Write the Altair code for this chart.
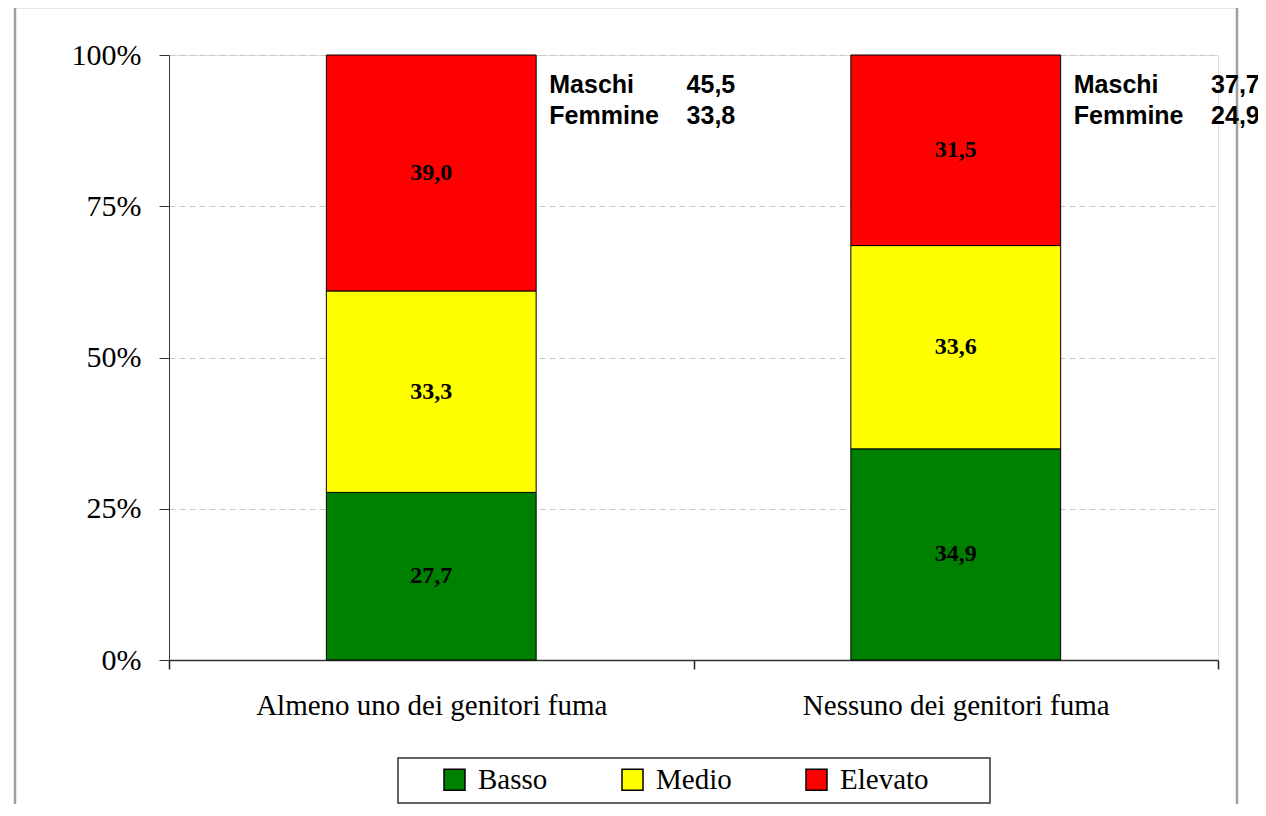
import altair as alt
import pandas as pd

categories = ["Almeno uno dei genitori fuma", "Nessuno dei genitori fuma"]
levels = ["Basso", "Medio", "Elevato"]
basso = [27.7, 34.9]
medio = [33.3, 33.6]
elevato = [39.0, 31.5]
maschi = [45.5, 37.7]
femmine = [33.8, 24.9]
colors = ["#008000", "#FFFF00", "#FF0000"]

def fmt(v):
    return f"{v:.1f}".replace(".", ",")

rows = []
for i, cat in enumerate(categories):
    lo = 0.0
    for j, (lev, vals) in enumerate(zip(levels, [basso, medio, elevato])):
        v = vals[i]
        hi = lo + v
        rows.append({"cat": cat, "level": lev, "ord": j, "value": v,
                     "lo": lo / 100, "hi": hi / 100, "mid": (lo + hi) / 200,
                     "label": fmt(v)})
        lo = hi
df = pd.DataFrame(rows)

ann = pd.DataFrame({
    "cat": categories,
    "top": [1.0, 1.0],
    "m": [fmt(v) for v in maschi],
    "f": [fmt(v) for v in femmine],
})

one = pd.DataFrame({"k": [0]})

xenc = alt.X("cat:N", sort=categories, title=None,
             scale=alt.Scale(paddingInner=0, paddingOuter=0),
             axis=alt.Axis(tickBand="extent", labelAngle=0, labelFont="Liberation Serif",
                           labelFontSize=29, labelColor="black", labelPadding=22, labelLimit=0,
                           tickSize=9, tickColor="#222", tickWidth=1.5,
                           domainColor="#333", domainWidth=1.5, grid=False))
yscale = alt.Scale(domain=[0, 1])

frame = alt.Chart(one).mark_rect(fillOpacity=0, stroke="#a0a0a0", strokeWidth=2.5).encode(
    x=alt.value(-154), x2=alt.value(1068), y=alt.value(-48), y2=alt.value(790))

bars = alt.Chart(df).mark_bar(stroke="black", strokeWidth=1, width={"band": 0.4}).encode(
    x=xenc,
    y=alt.Y("lo:Q", scale=yscale, title=None,
            axis=alt.Axis(values=[0, 0.25, 0.5, 0.75, 1], format=".0%",
                          labelFont="Liberation Serif", labelFontSize=30, labelColor="black",
                          labelPadding=18, tickSize=10, tickColor="#333", domainColor="#333",
                          grid=True, gridColor="#c8c8c8", gridDash=[6, 4], gridWidth=1)),
    y2="hi:Q",
    color=alt.Color("level:N", sort=levels,
                    scale=alt.Scale(domain=levels, range=colors),
                    legend=alt.Legend(title=None, orient="none", direction="horizontal",
                                      legendX=271, legendY=710, padding=0,
                                      symbolType="square", symbolSize=441,
                                      symbolStrokeColor="black", symbolStrokeWidth=1.5,
                                      labelFont="Liberation Serif", labelFontSize=29,
                                      labelColor="black", labelOffset=9, columnPadding=70)),
    order=alt.Order("ord:Q", sort="ascending"),
)

labels = alt.Chart(df).mark_text(font="Liberation Serif", fontSize=24, fontWeight="bold",
                                 color="black", baseline="middle").encode(
    x=alt.X("cat:N", sort=categories),
    y=alt.Y("mid:Q", scale=yscale),
    text="label:N",
)

base_ann = alt.Chart(ann).encode(x=alt.X("cat:N", sort=categories), y=alt.Y("top:Q", scale=yscale))
txt = dict(font="Liberation Sans", fontSize=25, fontWeight="bold", color="black",
           baseline="alphabetic")
m_lab = base_ann.mark_text(align="left", dx=118, dy=38, **txt).encode(text=alt.value("Maschi"))
f_lab = base_ann.mark_text(align="left", dx=118, dy=69, **txt).encode(text=alt.value("Femmine"))
m_val = base_ann.mark_text(align="right", dx=304, dy=38, **txt).encode(text="m:N")
f_val = base_ann.mark_text(align="right", dx=304, dy=69, **txt).encode(text="f:N")

legend_box = alt.Chart(one).mark_rect(fill="white", stroke="#333", strokeWidth=1.5).encode(
    x=alt.value(229), x2=alt.value(821), y=alt.value(703), y2=alt.value(748))

chart = alt.layer(frame, bars, labels, m_lab, f_lab, m_val, f_val, legend_box).properties(
    width=1049, height=605,
    autosize=alt.AutoSizeParams(type="none"),
    padding={"left": 161, "top": 47, "right": 40, "bottom": 144},
).configure_view(stroke=None).configure(background="white")

chart.save("out.html", embed_options={"renderer": "svg", "actions": False})
